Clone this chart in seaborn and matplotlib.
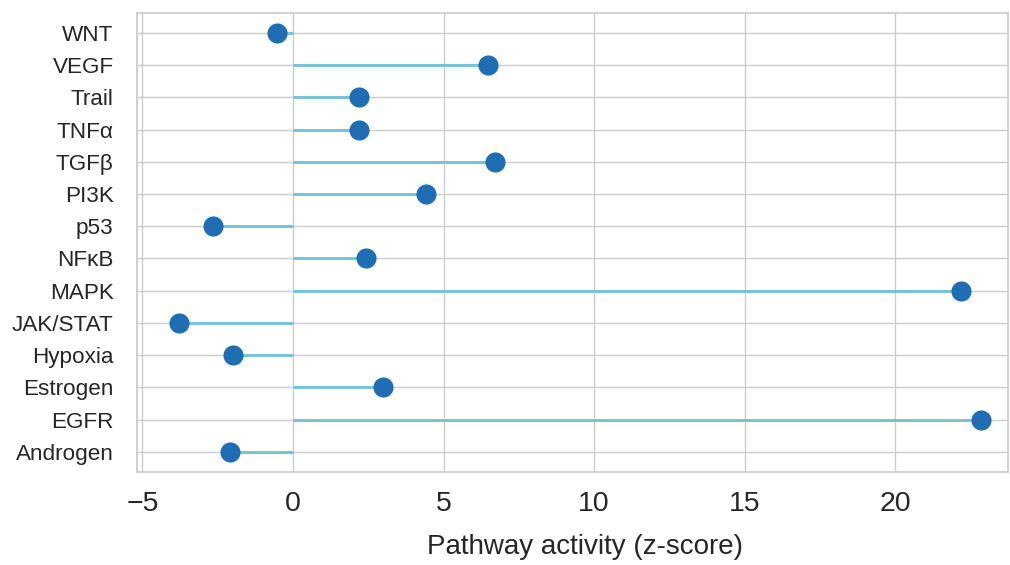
import numpy as np
import pandas as pd
import seaborn as sns
from matplotlib import pyplot as plt

# pathway z-scores, alphabetical (Androgen ends up at the bottom)
pathways = ['Androgen', 'EGFR', 'Estrogen', 'Hypoxia', 'JAK/STAT', 'MAPK', 'NFκB',
            'p53', 'PI3K', 'TGFβ', 'TNFα', 'Trail', 'VEGF', 'WNT']
zscores = [-2.08, 22.87, 3.0, -1.98, -3.8, 22.2, 2.41,
           -2.65, 4.43, 6.7, 2.2, 2.2, 6.47, -0.52]

df = pd.DataFrame({'Pathway': pathways, 'z': zscores})

sns.set_theme(style='whitegrid')
plt.rcParams['font.family'] = ['Liberation Sans', 'DejaVu Sans']

fig, ax = plt.subplots(figsize=(10.1, 5.65), dpi=100)
fig.subplots_adjust(left=0.136, right=0.998, top=0.977, bottom=0.165)

ax.hlines(y=df['Pathway'], xmin=0, xmax=df['z'], color='#78c2da', linewidth=2.2, zorder=2)
sns.scatterplot(data=df, x='z', y='Pathway', ax=ax, s=210, color='#1f6eb4',
                linewidth=0, zorder=3, legend=False)

ax.set_xlim(-5.17, 23.75)
ax.set_ylim(-0.62, len(pathways) - 1 + 0.62)
ax.set_xticks([-5, 0, 5, 10, 15, 20])
ax.tick_params(axis='x', labelsize=20.5, colors='.15', pad=8)
ax.tick_params(axis='y', labelsize=16.2, colors='.15', pad=11)
ax.set_xlabel('Pathway activity (z-score)', fontsize=20, color='.15')
ax.xaxis.set_label_coords(0.514, -0.135)
ax.set_ylabel('')

plt.savefig('out.png', dpi=100)
